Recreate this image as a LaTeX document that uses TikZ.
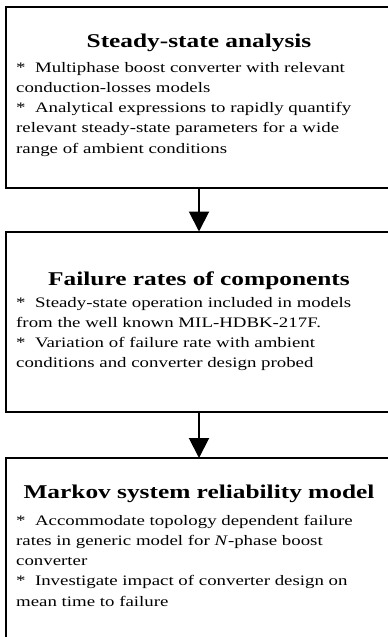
\documentclass[tikz,border=0pt]{standalone}
\usepackage{fontspec}
\setmainfont{Liberation Serif}[FakeStretch=1.3]
\usetikzlibrary{arrows.meta}

\newcommand{\stagelines}[1]{\begin{tabular}[t]{@{}l@{}}#1\end{tabular}}

\tikzset{
  box/.style={draw, line width=2pt, rectangle, inner sep=0, outer sep=0, anchor=north west},
  head/.style={font=\fontsize{19.5}{22}\selectfont\bfseries, inner sep=0, anchor=base},
  body/.style={font=\fontsize{14.5}{20.3}\selectfont, inner sep=0, anchor=base west},
  flow/.style={line width=2pt, -{Triangle[length=20pt,width=20pt]}}
}

\begin{document}
\begin{tikzpicture}[x=1pt, y=-1pt]
  \useasboundingbox (0,0) rectangle (388,637);
  \clip (0,0) rectangle (388,637);

  % the three stages
  \node [box, minimum width=386pt, minimum height=181.5pt] (steady) at (6,6.5) {};
  \node [box, minimum width=386pt, minimum height=180.5pt] (failure) at (6,231.5) {};
  \node [box, minimum width=386pt, minimum height=200pt] (markov) at (6,458) {};

  \draw [flow] (steady.south) -- (failure.north);
  \draw [flow] (failure.south) -- (markov.north);

  \node [head] (steadyhead) at (199,47) {Steady-state analysis};
  \node [body] (steadytext) at (16,72) {\stagelines{{*}~~Multiphase boost converter with relevant\\
    conduction-losses models\\
    {*}~~Analytical expressions to rapidly quantify\\
    relevant steady-state parameters for a wide\\
    range of ambient conditions}};

  \node [head] (failurehead) at (199,285) {Failure rates of components};
  \node [body] (failuretext) at (16,307) {\stagelines{{*}~~Steady-state operation included in models\\
    from the well known MIL-HDBK-217F.\\
    {*}~~Variation of failure rate with ambient\\
    conditions and converter design probed}};

  \node [head] (markovhead) at (199,498) {Markov system reliability model};
  \node [body] (markovtext) at (16,525) {\stagelines{{*}~~Accommodate topology dependent failure\\
    rates in generic model for \textit{N}-phase boost\\
    converter\\
    {*}~~Investigate impact of converter design on\\
    mean time to failure}};
\end{tikzpicture}
\end{document}
